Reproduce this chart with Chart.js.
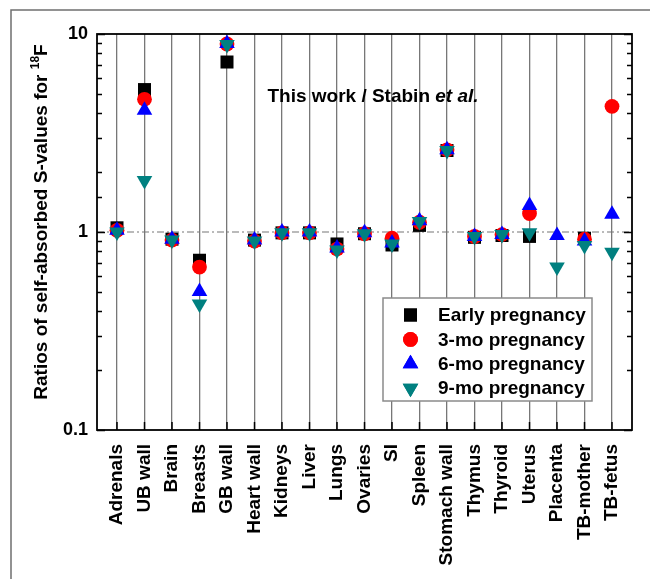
<!DOCTYPE html>
<html>
<head>
<meta charset="utf-8">
<title>Self-absorbed S-value ratios</title>
<script src="https://cdn.jsdelivr.net/npm/chart.js@4/dist/chart.umd.min.js"></script>
<style>
  html, body { margin: 0; padding: 0; background: #fff; }
  canvas { display: block; }
</style>
</head>
<body>
<canvas id="ratios" width="650" height="579"></canvas>
<script>
'use strict';

// Organs along the x axis
const organs = [
  'Adrenals', 'UB wall', 'Brain', 'Breasts', 'GB wall', 'Heart wall', 'Kidneys',
  'Liver', 'Lungs', 'Ovaries', 'SI', 'Spleen', 'Stomach wall', 'Thymus',
  'Thyroid', 'Uterus', 'Placenta', 'TB-mother', 'TB-fetus',
];

// Ratio (this work / Stabin et al.) per organ, one array per phantom
const earlyRatios = [1.05, 5.24, 0.92, 0.72, 7.22, 0.91, 0.99, 0.99, 0.87, 0.98, 0.86, 1.08, 2.58, 0.94, 0.96, 0.95, null, 0.93, null];
const mo3Ratios   = [1.02, 4.68, 0.91, 0.665, 8.9, 0.90, 0.99, 0.99, 0.82, 0.98, 0.93, 1.12, 2.60, 0.95, 0.97, 1.24, null, 0.92, 4.31];
const mo6Ratios   = [1.02, 4.12, 0.92, 0.50, 8.95, 0.91, 1.00, 1.00, 0.83, 0.99, 0.88, 1.14, 2.60, 0.95, 0.97, 1.36, 0.96, 0.90, 1.23];
const mo9Ratios   = [1.00, 1.82, 0.91, 0.433, 8.85, 0.90, 0.99, 0.99, 0.81, 0.98, 0.87, 1.13, 2.58, 0.95, 0.97, 0.99, 0.665, 0.855, 0.79];

// Labelled y ticks (log scale)
const yTickLabels = [0.1, 1, 10];

const FONT = '"Liberation Sans", Arial, sans-serif';
const GRID_GREY = 'rgba(95, 95, 95, 0.85)';

function toPoints(values) {
  return values.map((v, i) => ({ x: i, y: v }));
}

function isLabelled(v) {
  return yTickLabels.some((t) => Math.abs(Math.log10(v) - Math.log10(t)) < 1e-6);
}

const series = [
  { label: 'Early pregnancy', data: earlyRatios, color: '#000000', style: 'rect', radius: 9.2, rotation: 0, order: 4 },
  { label: '3-mo pregnancy', data: mo3Ratios, color: '#ff0000', style: 'circle', radius: 7.4, rotation: 0, order: 3 },
  { label: '6-mo pregnancy', data: mo6Ratios, color: '#0000ff', style: 'triangle', radius: 9, rotation: 0, order: 2 },
  { label: '9-mo pregnancy', data: mo9Ratios, color: '#008080', style: 'triangle', radius: 9, rotation: 180, order: 1 },
];

// Frame, inward ticks, reference line, note and legend box
const decorations = {
  id: 'decorations',
  beforeDraw(chart) {
    const ctx = chart.ctx;
    ctx.save();
    ctx.strokeStyle = '#6f6f6f';
    ctx.lineWidth = 1.5;
    ctx.beginPath();
    ctx.moveTo(11, 579);
    ctx.lineTo(11, 10);
    ctx.lineTo(650, 10);
    ctx.stroke();
    ctx.restore();
  },
  beforeDatasetsDraw(chart) {
    const { ctx, chartArea: a, scales: { y } } = chart;
    const py = y.getPixelForValue(1);
    ctx.save();
    ctx.strokeStyle = '#777';
    ctx.lineWidth = 1.2;
    ctx.setLineDash([7, 3, 2, 3]);
    ctx.beginPath();
    ctx.moveTo(a.left, py);
    ctx.lineTo(a.right, py);
    ctx.stroke();
    ctx.restore();
  },
  afterDraw(chart) {
    const { ctx, chartArea: a, scales: { x, y } } = chart;
    ctx.save();

    // y ticks pointing inward on both sides
    ctx.strokeStyle = '#000';
    ctx.lineWidth = 1.5;
    y.ticks.forEach((t) => {
      const py = Math.round(y.getPixelForValue(t.value)) + 0.5;
      const len = isLabelled(t.value) ? 8 : 5;
      ctx.beginPath();
      ctx.moveTo(a.left, py);
      ctx.lineTo(a.left + len, py);
      ctx.moveTo(a.right, py);
      ctx.lineTo(a.right - len, py);
      ctx.stroke();
    });

    // x ticks at the bottom edge
    x.ticks.forEach((t) => {
      const px = x.getPixelForValue(t.value);
      ctx.beginPath();
      ctx.moveTo(px, a.bottom);
      ctx.lineTo(px, a.bottom - 8);
      ctx.stroke();
    });

    // plot frame
    ctx.lineWidth = 1.8;
    ctx.strokeRect(a.left, a.top, a.right - a.left, a.bottom - a.top);

    // y axis title with superscript mass number
    const main = 'Ratios of self-absorbed S-values for ';
    ctx.translate(42, (a.top + a.bottom) / 2 - 10);
    ctx.rotate(-Math.PI / 2);
    ctx.fillStyle = '#000';
    ctx.textBaseline = 'middle';
    ctx.font = `bold 19px ${FONT}`;
    const wMain = ctx.measureText(main).width;
    ctx.font = `bold 12px ${FONT}`;
    const wSup = ctx.measureText('18').width;
    ctx.font = `bold 19px ${FONT}`;
    const wF = ctx.measureText('F').width;
    let tx = -(wMain + wSup + wF) / 2;
    ctx.textAlign = 'left';
    ctx.fillText(main, tx, 0);
    tx += wMain;
    ctx.font = `bold 12px ${FONT}`;
    ctx.fillText('18', tx, -6);
    tx += wSup;
    ctx.font = `bold 19px ${FONT}`;
    ctx.fillText('F', tx, 0);
    ctx.setTransform(1, 0, 0, 1, 0, 0);

    // note inside the plot
    ctx.textBaseline = 'middle';
    ctx.textAlign = 'left';
    ctx.font = `bold 19px ${FONT}`;
    const plain = 'This work / Stabin ';
    const wPlain = ctx.measureText(plain).width;
    ctx.font = `italic bold 19px ${FONT}`;
    const wItal = ctx.measureText('et al.').width;
    const nx = 373 - (wPlain + wItal) / 2;
    ctx.font = `bold 19px ${FONT}`;
    ctx.fillText(plain, nx, 97);
    ctx.font = `italic bold 19px ${FONT}`;
    ctx.fillText('et al.', nx + wPlain, 97);

    // legend
    const box = { left: 383, top: 298, width: 209, height: 103 };
    ctx.fillStyle = '#fff';
    ctx.fillRect(box.left, box.top, box.width, box.height);
    ctx.strokeStyle = '#8a8a8a';
    ctx.lineWidth = 1.5;
    ctx.strokeRect(box.left, box.top, box.width, box.height);
    ctx.font = `bold 19px ${FONT}`;
    series.forEach((s, i) => {
      const ry = 315 + i * 24.4;
      ctx.fillStyle = s.color;
      Chart.helpers.drawPoint(ctx, { pointStyle: s.style, radius: s.radius, rotation: s.rotation, borderWidth: 0 }, 410.5, ry);
      ctx.fill();
      ctx.fillStyle = '#000';
      ctx.fillText(s.label, 438, ry + 1);
    });

    ctx.restore();
  },
};

new Chart(document.getElementById('ratios'), {
  type: 'scatter',
  data: {
    datasets: series.map((s) => ({
      label: s.label,
      data: toPoints(s.data),
      order: s.order,
      pointStyle: s.style,
      pointRadius: s.radius,
      pointHoverRadius: s.radius,
      pointRotation: s.rotation,
      backgroundColor: s.color,
      borderColor: s.color,
      borderWidth: 0,
      showLine: false,
    })),
  },
  options: {
    responsive: false,
    animation: false,
    devicePixelRatio: 1,
    layout: { padding: { top: 34, right: 18, left: 0, bottom: 0 } },
    plugins: {
      legend: { display: false },
      tooltip: { enabled: false },
    },
    scales: {
      x: {
        type: 'linear',
        min: -0.727,
        max: 18.727,
        afterBuildTicks: (scale) => {
          scale.ticks = organs.map((_, i) => ({ value: i }));
        },
        afterFit: (scale) => { scale.height = 149; },
        ticks: {
          autoSkip: false,
          minRotation: 90,
          maxRotation: 90,
          padding: 14,
          color: '#000',
          font: { family: FONT, size: 19, weight: 'bold' },
          callback: (v) => organs[v] ?? '',
        },
        grid: { color: GRID_GREY, lineWidth: 1.3, drawTicks: false },
        border: { display: false },
      },
      y: {
        type: 'logarithmic',
        min: 0.1,
        max: 10,
        afterFit: (scale) => { scale.width = 97; },
        ticks: {
          autoSkip: false,
          padding: 9,
          color: '#000',
          font: { family: FONT, size: 18, weight: 'bold' },
          callback: (v) => (isLabelled(v) ? String(v) : ''),
        },
        grid: { display: false, drawTicks: false },
        border: { display: false },
      },
    },
  },
  plugins: [decorations],
});
</script>
</body>
</html>
